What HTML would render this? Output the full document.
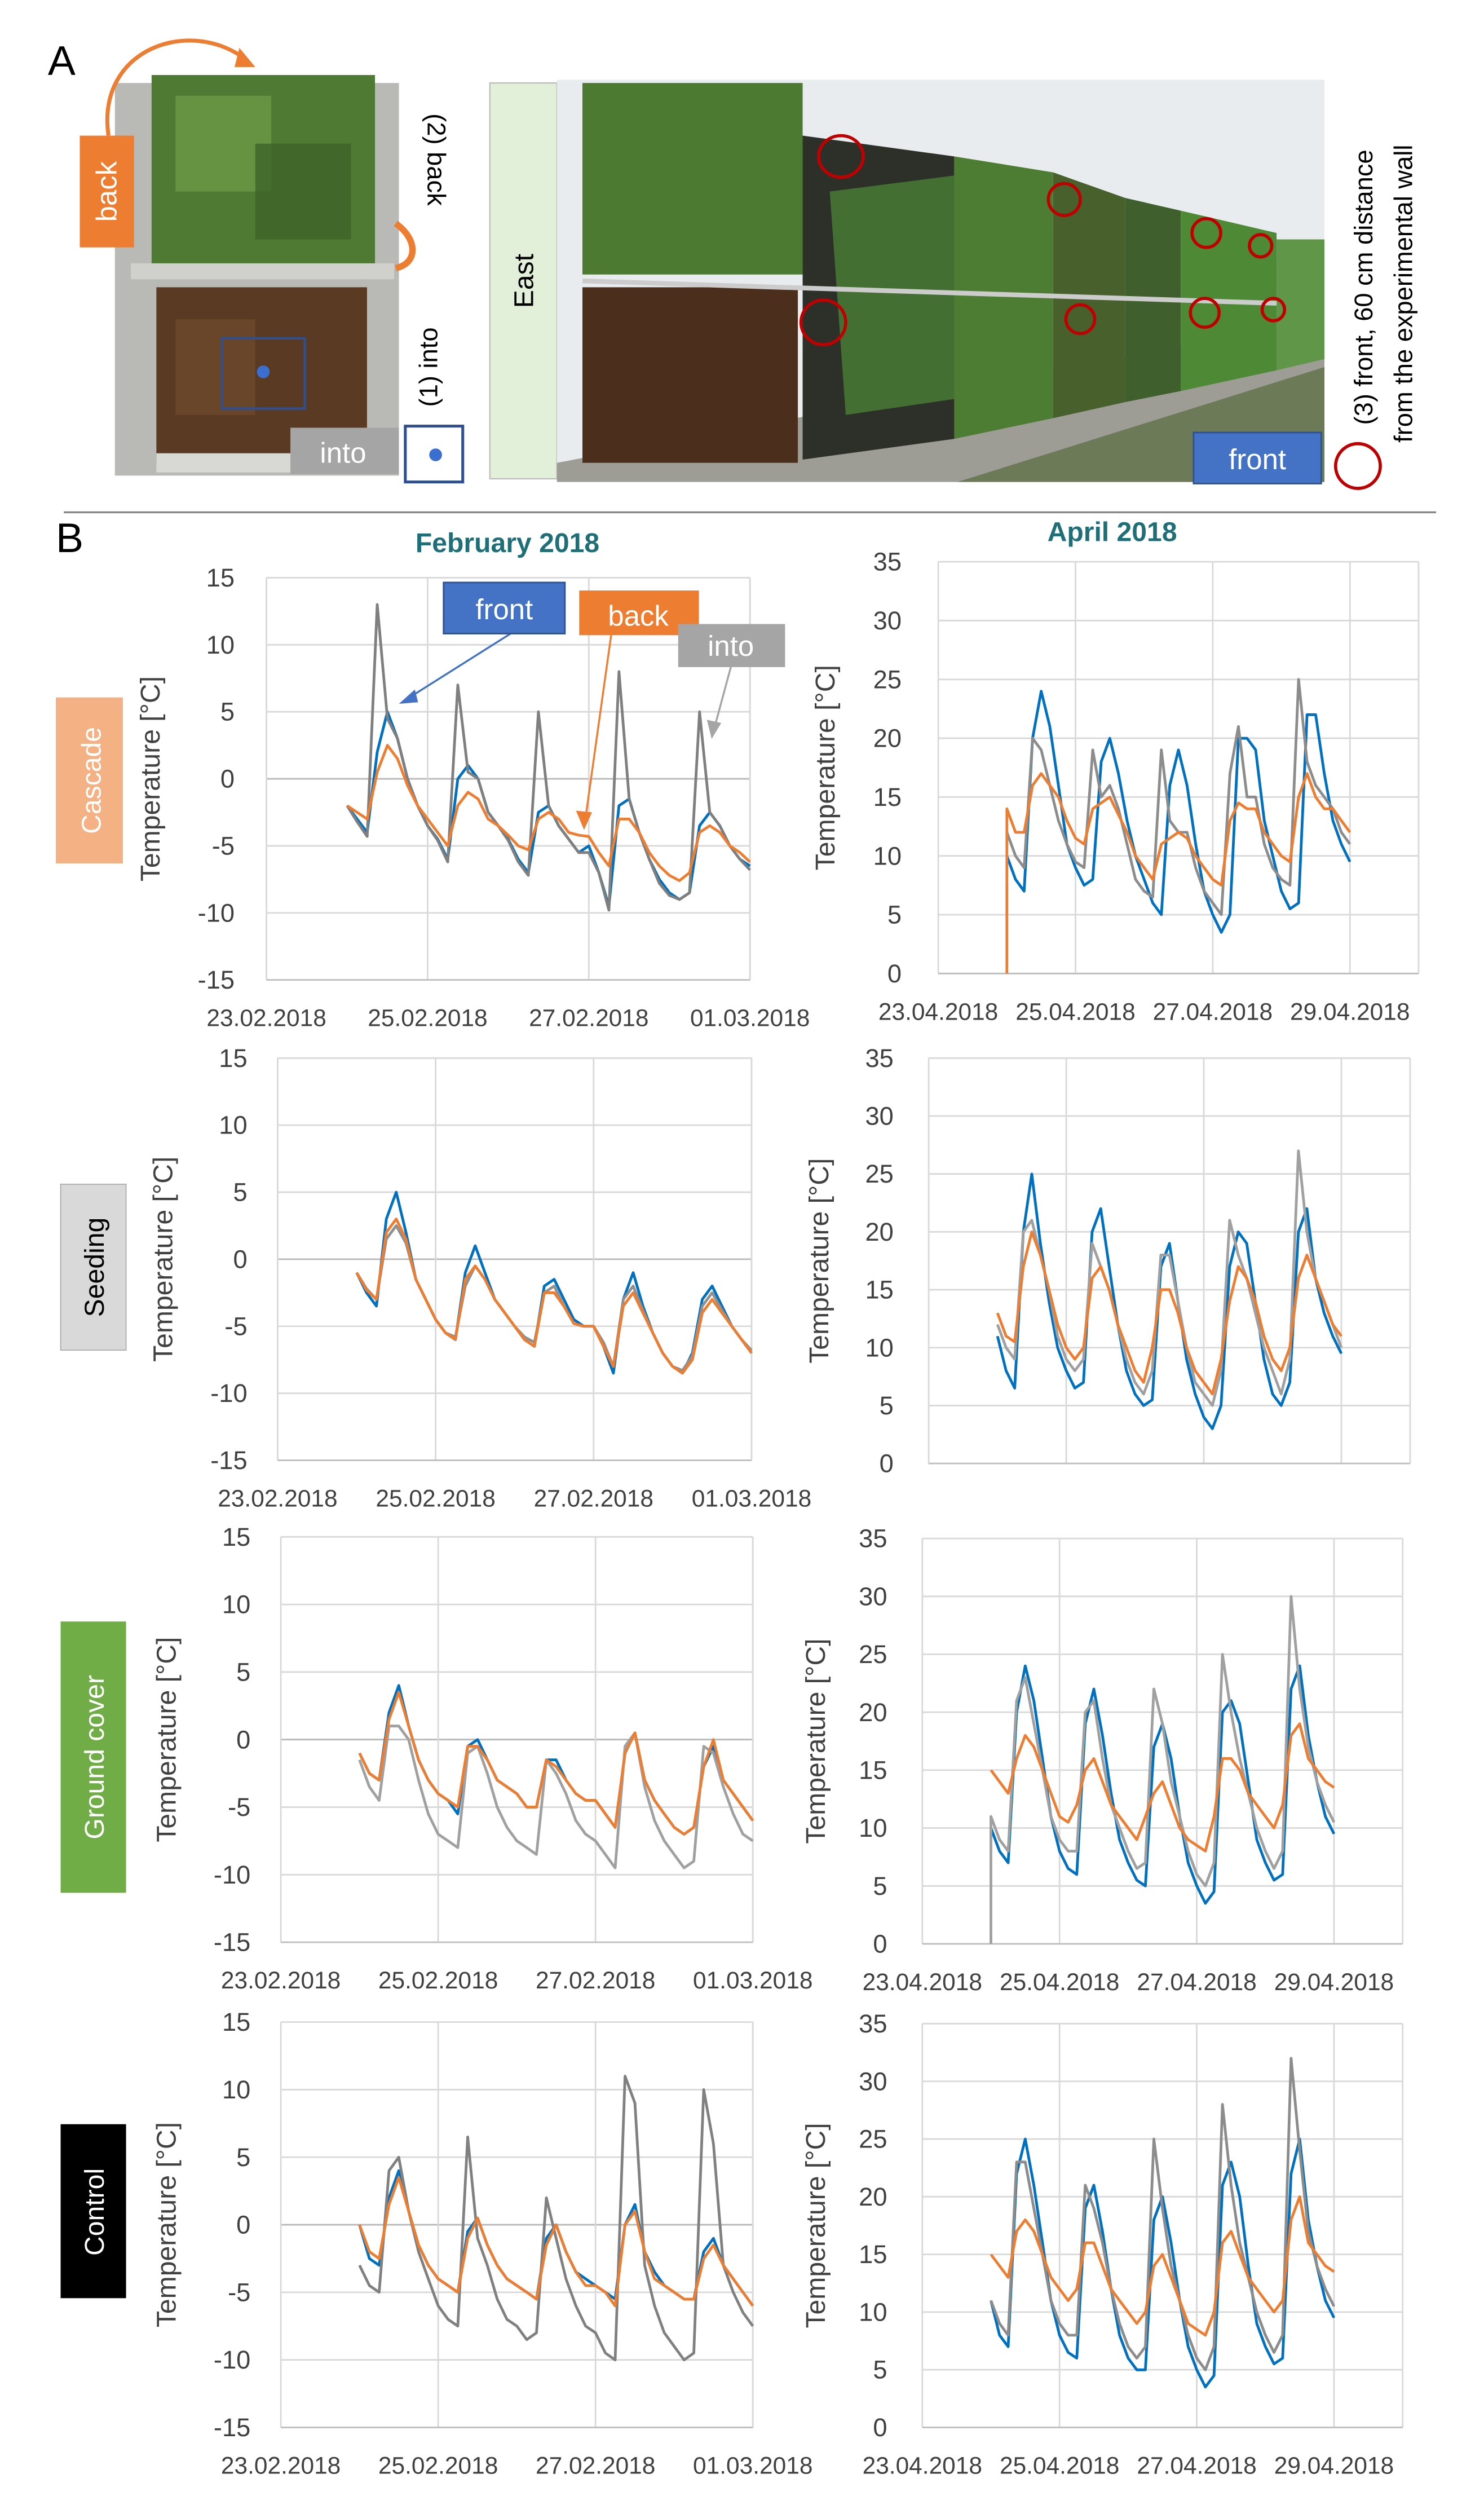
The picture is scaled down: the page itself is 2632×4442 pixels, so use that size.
<!DOCTYPE html>
<html><head><meta charset="utf-8"><style>
html,body{margin:0;padding:0;background:#fff;}
svg{display:block;font-family:"Liberation Sans",sans-serif;}
</style></head><body>
<svg id="fig" width="2632" height="4442" viewBox="0 0 930 1569.6" preserveAspectRatio="none" xmlns="http://www.w3.org/2000/svg">
<rect x="0" y="0" width="930" height="1570" fill="#fff"/>
<text x="30" y="47" font-size="26">A</text>
<text x="35" y="346" font-size="26">B</text>
<line x1="40" y1="321" x2="900" y2="321" stroke="#888" stroke-width="1.2"/>

<!-- left photo -->
<g>
<rect x="72" y="52" width="178" height="246" fill="#b9b9b5"/>
<rect x="95" y="47" width="140" height="118" fill="#4f7a33"/>
<rect x="110" y="60" width="60" height="60" fill="#6a9a46" opacity="0.8"/>
<rect x="160" y="90" width="60" height="60" fill="#3d6428" opacity="0.8"/>
<rect x="82" y="165" width="165" height="10" fill="#d0d0cc"/>
<rect x="98" y="180" width="132" height="110" fill="#5a3a22"/>
<rect x="110" y="200" width="50" height="60" fill="#6d4a2c" opacity="0.8"/>
<rect x="98" y="284" width="150" height="12" fill="#d8d8d4"/>
<rect x="139" y="212" width="52" height="44" fill="none" stroke="#2f4f8f" stroke-width="1.5"/>
<circle cx="165" cy="233" r="4" fill="#3a6fd0"/>
</g>
<rect x="50" y="85" width="34" height="70" fill="#ed7d31"/>
<text transform="translate(73,120) rotate(-90)" text-anchor="middle" font-size="18" fill="#fff">back</text>
<path d="M68,85 C60,30 120,10 155,38" fill="none" stroke="#ed7d31" stroke-width="2.5"/>
<path d="M150,30 L160,42 L147,42 Z" fill="#ed7d31"/>
<path d="M248,140 C262,150 262,165 248,168" fill="none" stroke="#ed7d31" stroke-width="4"/>
<text transform="translate(268,100) rotate(90)" text-anchor="middle" font-size="16">(2) back</text>
<text transform="translate(274,230) rotate(-90)" text-anchor="middle" font-size="16">(1) into</text>
<rect x="182" y="268" width="68" height="29" fill="#a5a5a5"/>
<text x="215" y="290" text-anchor="middle" font-size="18" fill="#fff">into</text>
<rect x="254" y="267" width="36" height="35" fill="#fff" stroke="#2f4f8f" stroke-width="1.8"/>
<circle cx="273" cy="285" r="4" fill="#3a6fd0"/>

<!-- right photo -->
<rect x="307" y="52" width="42" height="248" fill="#e2f0d9" stroke="#bbb" stroke-width="0.8"/>
<text transform="translate(334,176) rotate(-90)" text-anchor="middle" font-size="17">East</text>
<g>
<rect x="349" y="50" width="481" height="252" fill="#e8ecef"/>
<polygon points="349,302 830,302 830,200 349,290" fill="#9d9d96"/>
<rect x="365" y="52" width="138" height="120" fill="#4c7a30"/>
<rect x="365" y="180" width="135" height="110" fill="#4b2e1c"/>
<polygon points="503,85 598,98 598,275 503,288" fill="#2d3028"/>
<polygon points="520,120 598,110 598,250 530,260" fill="#4f8a36" opacity="0.7"/>
<polygon points="598,98 660,108 660,262 598,275" fill="#4d7d33"/>
<polygon points="660,108 705,124 705,252 660,262" fill="#47602c"/>
<polygon points="705,124 740,132 740,245 705,252" fill="#3f5f2c"/>
<polygon points="740,132 800,146 800,232 740,245" fill="#4e8a36"/>
<polygon points="800,150 830,150 830,225 800,232" fill="#5f9648"/>
<polygon points="600,302 830,230 830,302" fill="#6c7a58"/>
<line x1="365" y1="176" x2="800" y2="190" stroke="#ccc" stroke-width="3"/>
</g>
<g fill="none" stroke="#c00000" stroke-width="2">
<ellipse cx="527" cy="98" rx="14" ry="13"/><ellipse cx="516" cy="202" rx="14" ry="14"/>
<ellipse cx="667" cy="125" rx="10" ry="10"/><ellipse cx="677" cy="200" rx="9" ry="9"/>
<ellipse cx="756" cy="146" rx="9" ry="9"/><ellipse cx="790" cy="154" rx="7" ry="7"/>
<ellipse cx="755" cy="196" rx="9" ry="9"/><ellipse cx="798" cy="194" rx="7" ry="7"/>
</g>
<rect x="748" y="271" width="80" height="32" fill="#4472c4" stroke="#2f528f"/>
<text x="788" y="294" text-anchor="middle" font-size="18" fill="#fff">front</text>
<circle cx="851" cy="292" r="14" fill="none" stroke="#c00000" stroke-width="2"/>
<text transform="translate(860,180) rotate(-90)" text-anchor="middle" font-size="16">(3) front, 60 cm distance</text>
<text transform="translate(885,184) rotate(-90)" text-anchor="middle" font-size="16">from the experimental wall</text>

<!-- titles -->
<text x="318" y="346" text-anchor="middle" font-size="17" font-weight="bold" fill="#1f6f78">February 2018</text>
<text x="697" y="339" text-anchor="middle" font-size="17" font-weight="bold" fill="#1f6f78">April 2018</text>

<!-- row labels -->
<rect x="35" y="437" width="42" height="104" fill="#f4b183"/>
<text transform="translate(63,489) rotate(-90)" text-anchor="middle" font-size="17" fill="#fff">Cascade</text>
<rect x="38" y="742" width="41" height="104" fill="#d9d9d9" stroke="#aaa" stroke-width="0.6"/>
<text transform="translate(65,794) rotate(-90)" text-anchor="middle" font-size="17" fill="#000">Seeding</text>
<rect x="38" y="1016" width="41" height="170" fill="#70ad47"/>
<text transform="translate(65,1101) rotate(-90)" text-anchor="middle" font-size="17" fill="#fff">Ground cover</text>
<rect x="38" y="1331" width="41" height="109" fill="#000"/>
<text transform="translate(65,1386) rotate(-90)" text-anchor="middle" font-size="17" fill="#fff">Control</text>

<g id="charts"></g>
<g id="legend">
<line x1="320" y1="397" x2="255" y2="438" stroke="#4472c4" stroke-width="1.2"/>
<path d="M250,441 L260,432 L262,440 Z" fill="#4472c4"/>
<line x1="383" y1="398" x2="367" y2="512" stroke="#ed7d31" stroke-width="1.2"/>
<path d="M366,520 L361,508 L371,509 Z" fill="#ed7d31"/>
<line x1="458" y1="418" x2="448" y2="455" stroke="#a5a5a5" stroke-width="1.2"/>
<path d="M446,463 L443,451 L452,453 Z" fill="#a5a5a5"/>
<rect x="278" y="365" width="76" height="32" fill="#4472c4" stroke="#2f528f"/>
<text x="316" y="388" text-anchor="middle" font-size="18" fill="#fff">front</text>
<rect x="363" y="370" width="75" height="28" fill="#ed7d31"/>
<text x="400" y="392" text-anchor="middle" font-size="18" fill="#fff">back</text>
<rect x="425" y="391" width="67" height="27" fill="#a5a5a5"/>
<text x="458" y="411" text-anchor="middle" font-size="18" fill="#fff">into</text>
</g>
</svg>
<script>
// time axis (days after the first tick date), 3-hour steps from day 1 to day 6
const dayOffsets = [1,1.125,1.25,1.375,1.5,1.625,1.75,1.875,2,2.125,2.25,2.375,2.5,2.625,2.75,2.875,3,3.125,3.25,3.375,3.5,3.625,3.75,3.875,4,4.125,4.25,4.375,4.5,4.625,4.75,4.875,5,5.125,5.25,5.375,5.5,5.625,5.75,5.875,6];
const febTickLabels = ["23.02.2018","25.02.2018","27.02.2018","01.03.2018"];
const aprTickLabels = ["23.04.2018","25.04.2018","27.04.2018","29.04.2018"];
const febYTicks = [15,10,5,0,-5,-10,-15];
const aprYTicks = [35,30,25,20,15,10,5,0];

const cascadeFebFront = [-2,-3,-4,2,5,3,0,-2, -3.5,-4.5,-6,0,1,0,-2.5,-3.5, -4.5,-6,-7,-2.5,-2,-3.5,-4.5,-5.5, -5,-7,-9.5,-2,-1.5,-4,-6,-7.5, -8.5,-9,-8.5,-3.5,-2.5,-3.5,-5,-6, -6.5];
const cascadeFebBack = [-2,-2.5,-3,0.5,2.5,1.5,-0.5,-2, -3,-4,-5,-2,-1,-1.5,-3,-3.5, -4.2,-5,-5.3,-3,-2.5,-3,-4,-4.2, -4.3,-5.5,-6.5,-3,-3,-4,-5.5,-6.5, -7.2,-7.6,-7,-4,-3.5,-4,-5,-5.5, -6.2];
const cascadeFebInto = [-2,-3.2,-4.3,13,4.5,3,0,-2, -3.5,-4.6,-6.2,7,0.5,0,-2.5,-3.5, -4.6,-6.2,-7.2,5,-2,-3.5,-4.5,-5.5, -5.5,-7,-9.8,8,-1.5,-4,-6,-7.8, -8.7,-9,-8.5,5,-2.5,-3.5,-5,-6, -6.8];

const cascadeAprFront = [10,8,7,20,24,21,16,11, 9,7.5,8,18,20,17,13,10, 8,6,5,16,19,16,11,7, 5,3.5,5,20,20,19,13,10, 7,5.5,6,22,22,17,13,11, 9.5];
const cascadeAprBack = [14,12,12,16,17,16,15,13, 11.5,11,14,14.5,15,13.5,12,10, 9,8,11,11.5,12,11.5,10,9, 8,7.5,13,14.5,14,14,12,11, 10,9.5,15,17,15,14,14,13, 12];
const cascadeAprInto = [12,10,9,20,19,16,13,11, 9.5,9,19,15,16,14,11,8, 7,6.5,19,13,12,12,9,7, 6,5,17,21,15,15,11,9, 8,7.5,25,18,16,15,14,12, 11];

const seedingFebFront = [-1,-2.5,-3.5,3,5,2,-1.5,-3, -4.5,-5.5,-6,-1,1,-1,-3,-4, -5,-6,-6.5,-2,-1.5,-3,-4.5,-5, -5,-6.5,-8.5,-3,-1,-3.5,-5.5,-7, -8,-8.5,-7,-3,-2,-3.5,-5,-6, -7];
const seedingFebBack = [-1,-2.3,-3,2,3,1.5,-1.5,-3, -4.5,-5.5,-6,-1.5,-0.5,-1.5,-3,-4, -5,-6,-6.5,-2.5,-2.5,-3.5,-4.8,-5, -5,-6.5,-8,-3.5,-2.5,-4,-5.5,-7, -8,-8.5,-7.5,-4,-3,-4,-5,-6, -7];
const seedingFebInto = [-1,-2.2,-3,1.5,2.5,1.2,-1.5,-3, -4.5,-5.5,-5.8,-2,-0.5,-1.5,-3,-4, -5,-5.8,-6.2,-2.5,-2,-3.5,-4.8,-5, -5,-6.2,-8,-3,-2,-3.8,-5.5,-7, -8,-8.3,-7.2,-3.5,-2.5,-3.8,-5,-6, -6.8];

const seedingAprFront = [11,8,6.5,20,25,19,14,10, 8,6.5,7,20,22,17,12,8, 6,5,5.5,17,19,14,9,6, 4,3,5,17,20,19,14,9, 6,5,7,20,22,16,13,11, 9.5];
const seedingAprBack = [13,11,10.5,17,20,18,15,12, 10,9,10,16,17,15,12,10, 8,7,10,15,15,13,10,8, 7,6,9,14,17,16,14,11, 9,8,10,16,18,16,14,12, 11];
const seedingAprInto = [12,10,9,20,21,18,15,11, 9,8,9,19,17,15,12,9, 7,6,8,18,18,14,10,7, 6,5,8,21,18,16,13,10, 8,6,9,27,20,16,14,12, 10];

const groundFebFront = [-1,-2.5,-3,2,4,1,-1.5,-3, -4,-4.5,-5.5,-0.5,0,-1.5,-3,-3.5, -4,-5,-5,-1.5,-1.5,-3,-4,-4.5, -4.5,-5.5,-6.5,-1,0.5,-3,-4.5,-5.5, -6.5,-7,-6.5,-2,-0.5,-3,-4,-5, -6];
const groundFebBack = [-1,-2.5,-3,1.5,3.5,1,-1.5,-3, -4,-4.5,-5,-0.5,-0.5,-1.5,-3,-3.5, -4,-5,-5,-1.5,-2,-3,-4,-4.5, -4.5,-5.5,-6.5,-1,0.5,-3,-4.5,-5.5, -6.5,-7,-6.5,-2,0,-3,-4,-5, -6];
const groundFebInto = [-1.5,-3.5,-4.5,1,1,0,-3,-5.5, -7,-7.5,-8,-1,-0.5,-2.5,-5,-6.5, -7.5,-8,-8.5,-1.5,-2.5,-4,-6,-7, -7.5,-8.5,-9.5,-0.5,0.5,-3.5,-6,-7.5, -8.5,-9.5,-9,-0.5,-1,-3.5,-5.5,-7, -7.5];

const groundAprFront = [10,8,7,20,24,21,16,11, 8,6.5,6,19,22,18,13,9, 7,5.5,5,17,19,16,11,7, 5,3.5,4.5,20,21,19,14,9, 7,5.5,6,22,24,18,14,11, 9.5];
const groundAprBack = [15,14,13,16,18,17,15,13, 11,10.5,12,15,16,14,12,11, 10,9,11,13,14,12,10,9, 8.5,8,11,16,16,15,13,12, 11,10,12,18,19,16,15,14, 13.5];
const groundAprInto = [11,9,8,21,23,19,15,11, 9,8,8,20,21,16,12,10, 8,6.5,7,22,19,14,11,8, 6,5,7,25,20,16,13,10, 8,6.5,8,30,22,17,14,12, 10.5];

const controlFebFront = [0,-2.5,-3,2,4,1,-1.5,-3, -4,-4.5,-5,-0.5,0.5,-1.5,-3,-4, -4.5,-5,-5.5,-1,0,-2,-3.5,-4, -4.5,-5,-5.5,0,1.5,-2,-3.5,-4.5, -5,-5.5,-5.5,-2,-1,-3,-4,-5, -6];
const controlFebBack = [0,-2,-2.5,1.5,3.5,1,-1.5,-3, -4,-4.5,-5,-1,0.5,-1.5,-3,-4, -4.5,-5,-5.5,-1.5,0,-2,-3.5,-4.5, -4.5,-5,-6,0,1,-2,-4,-4.5, -5,-5.5,-5.5,-2.5,-1.5,-3,-4,-5, -6];
const controlFebInto = [-3,-4.5,-5,4,5,1,-2,-4, -6,-7,-7.5,6.5,-1,-3,-5.5,-7, -7.5,-8.5,-8,2,-1,-4,-6,-7.5, -8,-9.5,-10,11,9,-3,-6,-8, -9,-10,-9.5,10,6,-3,-5,-6.5, -7.5];

const controlAprFront = [11,8,7,22,25,21,16,11, 8,6.5,6,19,21,17,12,8, 6,5,5,18,20,16,11,7, 5,3.5,4.5,21,23,20,14,9, 7,5.5,6,22,25,18,14,11, 9.5];
const controlAprBack = [15,14,13,17,18,17,15,13, 12,11,12,16,16,14,12,11, 10,9,10,14,15,13,11,9, 8.5,8,10,16,17,15,13,12, 11,10,11,18,20,16,15,14, 13.5];
const controlAprInto = [11,9,8,23,23,19,15,11, 9,8,8,21,19,16,12,9, 7,6,7,25,19,14,11,8, 6,5,7,28,21,16,13,10, 8,6.5,8,32,24,17,14,12, 10.5];

const NS = "http://www.w3.org/2000/svg";
const root = document.getElementById('charts');
function el(tag, attrs, parent){const e=document.createElementNS(NS,tag);for(const k in attrs)e.setAttribute(k,attrs[k]);(parent||root).appendChild(e);return e;}

const panels = [
 {name:'cascade-feb', x0:167, day:50.5, nDays:6, yTop:362, yBot:614, vMax:15, vMin:-15, ticks:febYTicks, labels:febTickLabels, showX:true, labX:147, titleX:100, front:cascadeFebFront, back:cascadeFebBack, into:cascadeFebInto, intoCol:'#7f7f7f'},
 {name:'cascade-apr', x0:588, day:43, nDays:7, yTop:352, yBot:610, vMax:35, vMin:0, ticks:aprYTicks, labels:aprTickLabels, showX:true, labX:565, titleX:523, front:cascadeAprFront, back:cascadeAprBack, into:cascadeAprInto, intoCol:'#8c8c8c', drop:'back'},
 {name:'seeding-feb', x0:174, day:49.5, nDays:6, yTop:663, yBot:915, vMax:15, vMin:-15, ticks:febYTicks, labels:febTickLabels, showX:true, labX:155, titleX:108, front:seedingFebFront, back:seedingFebBack, into:seedingFebInto, intoCol:'#909090'},
 {name:'seeding-apr', x0:582, day:43.1, nDays:7, yTop:663, yBot:917, vMax:35, vMin:0, ticks:aprYTicks, labels:aprTickLabels, showX:false, labX:560, titleX:519, front:seedingAprFront, back:seedingAprBack, into:seedingAprInto, intoCol:'#a0a0a0'},
 {name:'ground-cover-feb', x0:176, day:49.3, nDays:6, yTop:963, yBot:1217, vMax:15, vMin:-15, ticks:febYTicks, labels:febTickLabels, showX:true, labX:157, titleX:110, front:groundFebFront, back:groundFebBack, into:groundFebInto, intoCol:'#a0a0a0'},
 {name:'ground-cover-apr', x0:578, day:43, nDays:7, yTop:964, yBot:1218, vMax:35, vMin:0, ticks:aprYTicks, labels:aprTickLabels, showX:true, labX:556, titleX:517, front:groundAprFront, back:groundAprBack, into:groundAprInto, intoCol:'#a0a0a0', drop:'into'},
 {name:'control-feb', x0:176, day:49.3, nDays:6, yTop:1267, yBot:1521, vMax:15, vMin:-15, ticks:febYTicks, labels:febTickLabels, showX:true, labX:157, titleX:110, front:controlFebFront, back:controlFebBack, into:controlFebInto, intoCol:'#808080'},
 {name:'control-apr', x0:578, day:43, nDays:7, yTop:1268, yBot:1521, vMax:35, vMin:0, ticks:aprYTicks, labels:aprTickLabels, showX:true, labX:556, titleX:517, front:controlAprFront, back:controlAprBack, into:controlAprInto, intoCol:'#8c8c8c'}
];

panels.forEach(p=>{
  const g = el('g',{});
  
  
  const xs = t => p.x0 + t*p.day;
  const ys = v => p.yTop + (p.vMax - v)/(p.vMax - p.vMin)*(p.yBot - p.yTop);
  const xR = xs(p.nDays);
  p.ticks.forEach(v=>{
    const l = el('line',{x1:p.x0,x2:xR,y1:ys(v),y2:ys(v),stroke:(v===0&&p.vMin<0)?'#b8b8b8':'#d9d9d9','stroke-width':1},g);
    
    
    const t = el('text',{x:p.labX,y:ys(v)+5.5,'text-anchor':'end','font-size':16,fill:'#404040'},g);
    
    
    t.textContent = v;
  });
  for(let d=0; d<=p.nDays; d+=2){
    const l = el('line',{x1:xs(d),x2:xs(d),y1:p.yTop,y2:p.yBot,stroke:'#d9d9d9','stroke-width':1},g);
    
    
  }
  el('line',{x1:xR,x2:xR,y1:p.yTop,y2:p.yBot,stroke:'#d9d9d9','stroke-width':1},g);
  el('line',{x1:p.x0,x2:xR,y1:p.yBot,y2:p.yBot,stroke:'#bfbfbf','stroke-width':1},g);
  if(p.showX){
    p.labels.forEach((s,i)=>{
      const t = el('text',{x:xs(i*2),y:p.yBot+29,'text-anchor':'middle','font-size':15,fill:'#404040'},g);
      
      
      t.textContent = s;
    });
  }
  const at = el('text',{transform:`translate(${p.titleX},${(p.yTop+p.yBot)/2}) rotate(-90)`,'text-anchor':'middle','font-size':17,fill:'#404040'},g);
  
  
  at.textContent = 'Temperature [°C]';
  const series = [['front',p.front,'#0070c0'],['into',p.into,p.intoCol],['back',p.back,'#ed7d31']];
  series.forEach(([nm,vals,col])=>{
    let pts = vals.map((v,i)=>xs(dayOffsets[i]).toFixed(1)+','+ys(v).toFixed(1));
    if(p.drop===nm) pts.unshift(xs(dayOffsets[0]).toFixed(1)+','+ys(0).toFixed(1));
    const pl = el('polyline',{points:pts.join(' '),fill:'none',stroke:col,'stroke-width':1.7,'stroke-linejoin':'round'},g);
    
    
  });
});
</script>
</body></html>
